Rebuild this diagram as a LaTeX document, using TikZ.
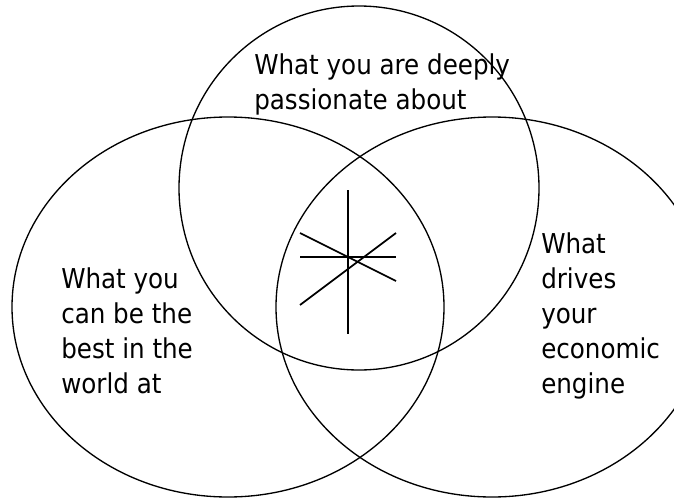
\documentclass[tikz,border=0pt]{standalone}
\usepackage{fontspec}
\setmainfont{DejaVu Sans Condensed}
\usetikzlibrary{positioning}
\tikzset{
  ring/.style={draw=black, line width=1pt},
  spoke/.style={draw=black, line width=1.3pt},
  areatext/.style={anchor=base west, inner sep=0pt, align=left,
    font=\fontsize{20.5}{26.25}\selectfont}
}
\begin{document}
\begin{tikzpicture}[x=0.75pt, y=-0.75pt]
    \useasboundingbox (0,0) rectangle (674,500);
    \clip (0,0) rectangle (674,500);
    % the three circles
    \draw[ring] (359,188) ellipse [x radius=180, y radius=182];
    \draw[ring] (228,307) ellipse [x radius=216, y radius=190];
    \draw[ring] (492,307) ellipse [x radius=216, y radius=190];
    % texts (anchored at the last line)
    \node[areatext] (passion) at (254,109) {What you are deeply\\passionate about};
    \node[areatext] (best) at (61,393) {What you\\can be the\\best in the\\world at};
    \node[areatext] (engine) at (541,393) {What\\drives\\your\\economic\\engine};
    % the mark in the middle
    \coordinate (hub) at (348,257);
    \draw[spoke] (hub |- 0,190) -- (hub |- 0,334);
    \draw[spoke] (300,257) -- (396,257);
    \draw[spoke] (300,233) -- (396,281);
    \draw[spoke] (300,305) -- (396,233);
\end{tikzpicture}
\end{document}
